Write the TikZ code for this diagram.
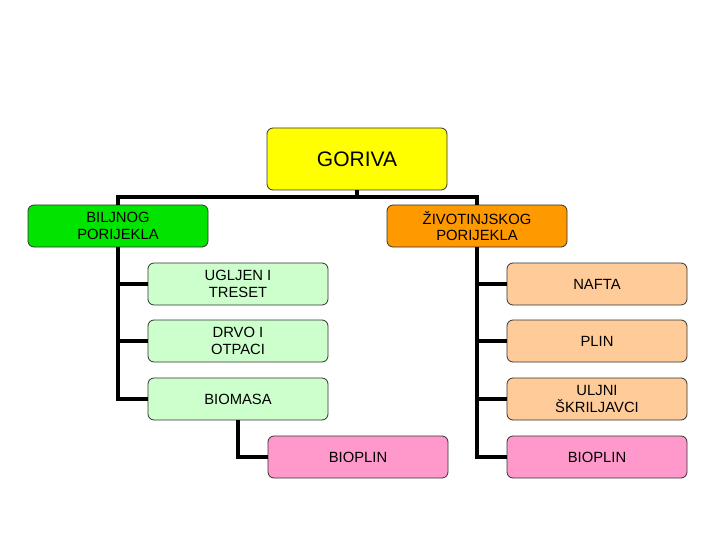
\documentclass[tikz,border=0pt]{standalone}
\usepackage{fontspec}
\setmainfont{Liberation Sans}
\definecolor{cyel}{HTML}{FFFF00}
\definecolor{cgreen}{HTML}{00E400}
\definecolor{corange}{HTML}{FF9900}
\definecolor{clgreen}{HTML}{CCFFCC}
\definecolor{clorange}{HTML}{FFCC99}
\definecolor{cpink}{HTML}{FF99CC}
\begin{document}
\begin{tikzpicture}[x=1pt,y=-1pt,
  boxst/.style={draw=black!80, line width=0.8pt, rounded corners=6pt, minimum width=180pt, minimum height=42pt, align=center, inner sep=2pt, font=\fontsize{14.8}{16.5}\selectfont},
  conn/.style={line width=3.2pt, black}]
\useasboundingbox[fill=white] (0,0) rectangle (720,540);
\node[boxst, fill=cyel, minimum height=62pt, font=\fontsize{21}{23}\selectfont] (gor) at (357,159) {GORIVA};
\node[boxst, fill=cgreen] (bil) at (118,226) {BILJNOG\\PORIJEKLA};
\node[boxst, fill=corange] (ziv) at (477,226) {ŽIVOTINJSKOG\\PORIJEKLA};
\node[boxst, fill=clgreen] (ugl) at (238,284) {UGLJEN I\\TRESET};
\node[boxst, fill=clgreen] (drv) at (238,341) {DRVO I\\OTPACI};
\node[boxst, fill=clgreen] (bio) at (238,399) {BIOMASA};
\node[boxst, fill=cpink] (bp1) at (358,457) {BIOPLIN};
\node[boxst, fill=clorange] (naf) at (597,284) {NAFTA};
\node[boxst, fill=clorange] (pli) at (597,341) {PLIN};
\node[boxst, fill=clorange] (ulj) at (597,399) {ULJNI\\ŠKRILJAVCI};
\node[boxst, fill=cpink] (bp2) at (597,457) {BIOPLIN};
\coordinate (top) at (357,197);
\draw[conn] (gor.south) -- (top);
\draw[conn] (bil.north) |- (top) -| (ziv.north);
\draw[conn] (bil.south) |- (ugl.west);
\draw[conn] (bil.south) |- (drv.west);
\draw[conn] (bil.south) |- (bio.west);
\draw[conn] (bio.south) |- (bp1.west);
\draw[conn] (ziv.south) |- (naf.west);
\draw[conn] (ziv.south) |- (pli.west);
\draw[conn] (ziv.south) |- (ulj.west);
\draw[conn] (ziv.south) |- (bp2.west);
\end{tikzpicture}
\end{document}
